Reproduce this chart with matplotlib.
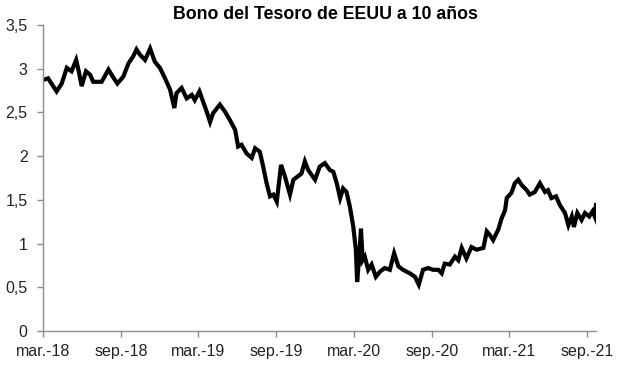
import pandas as pd
import matplotlib
matplotlib.use('Agg')
import matplotlib.pyplot as plt

plt.rcParams['font.family'] = ['Liberation Sans', 'DejaVu Sans']

# Rentabilidad del bono a 10 años
fechas = [
    '2018-03-01', '2018-03-13', '2018-03-21', '2018-04-02', '2018-04-14', '2018-04-26',
    '2018-05-07', '2018-05-18', '2018-05-25', '2018-05-31', '2018-06-10', '2018-06-20',
    '2018-06-27', '2018-07-17', '2018-08-02', '2018-08-12', '2018-08-23', '2018-09-06',
    '2018-09-18', '2018-09-29', '2018-10-07', '2018-10-15', '2018-10-27', '2018-11-08',
    '2018-11-19', '2018-12-01', '2018-12-13', '2018-12-25', '2019-01-04', '2019-01-09',
    '2019-01-21', '2019-02-02', '2019-02-14', '2019-02-21', '2019-03-04', '2019-03-13',
    '2019-03-21', '2019-03-29', '2019-04-05', '2019-04-21', '2019-05-03', '2019-05-15',
    '2019-05-27', '2019-06-03', '2019-06-11', '2019-06-23', '2019-07-05', '2019-07-13',
    '2019-07-24', '2019-08-01', '2019-08-09', '2019-08-17', '2019-08-25', '2019-09-02',
    '2019-09-12', '2019-09-21', '2019-10-03', '2019-10-11', '2019-10-22', '2019-10-30',
    '2019-11-07', '2019-11-15', '2019-12-01', '2019-12-12', '2019-12-24', '2020-01-05',
    '2020-01-13', '2020-01-21', '2020-01-29', '2020-02-05', '2020-02-13', '2020-02-21',
    '2020-02-29', '2020-03-06', '2020-03-09', '2020-03-14', '2020-03-18', '2020-03-22',
    '2020-03-27', '2020-04-04', '2020-04-12', '2020-04-22', '2020-05-02', '2020-05-13',
    '2020-05-25', '2020-06-04', '2020-06-14', '2020-06-25', '2020-07-11', '2020-07-23',
    '2020-08-01', '2020-08-11', '2020-08-23', '2020-09-04', '2020-09-16', '2020-09-24',
    '2020-10-01', '2020-10-13', '2020-10-25', '2020-11-02', '2020-11-10', '2020-11-21',
    '2020-12-03', '2020-12-15', '2020-12-31', '2021-01-08', '2021-01-15', '2021-01-23',
    '2021-02-04', '2021-02-12', '2021-02-20', '2021-02-24', '2021-03-07', '2021-03-15',
    '2021-03-23', '2021-03-31', '2021-04-12', '2021-04-19', '2021-05-01', '2021-05-13',
    '2021-05-25', '2021-06-01', '2021-06-09', '2021-06-20', '2021-06-29', '2021-07-11',
    '2021-07-19', '2021-07-27', '2021-08-01', '2021-08-09', '2021-08-19', '2021-08-27',
    '2021-09-06', '2021-09-14', '2021-09-19', '2021-09-22',
]
rentabilidad = [
    2.87, 2.89, 2.83, 2.74, 2.83, 3.01,
    2.97, 3.10, 2.95, 2.80, 2.97, 2.93,
    2.85, 2.85, 2.99, 2.91, 2.83, 2.91,
    3.06, 3.14, 3.22, 3.16, 3.10, 3.23,
    3.08, 3.01, 2.89, 2.76, 2.55, 2.72,
    2.78, 2.66, 2.70, 2.64, 2.74, 2.62,
    2.51, 2.39, 2.49, 2.59, 2.51, 2.41,
    2.30, 2.11, 2.13, 2.03, 1.98, 2.09,
    2.05, 1.88, 1.69, 1.54, 1.56, 1.48,
    1.90, 1.77, 1.56, 1.73, 1.77, 1.80,
    1.94, 1.84, 1.73, 1.88, 1.92, 1.84,
    1.82, 1.69, 1.52, 1.63, 1.59, 1.42,
    1.19, 0.93, 0.56, 0.85, 1.17, 0.81,
    0.85, 0.70, 0.76, 0.62, 0.68, 0.72,
    0.70, 0.89, 0.74, 0.70, 0.66, 0.62,
    0.53, 0.70, 0.72, 0.70, 0.70, 0.66,
    0.77, 0.76, 0.85, 0.81, 0.95, 0.83,
    0.96, 0.93, 0.95, 1.14, 1.10, 1.04,
    1.16, 1.29, 1.38, 1.52, 1.58, 1.69,
    1.73, 1.67, 1.61, 1.56, 1.59, 1.69,
    1.59, 1.61, 1.52, 1.54, 1.44, 1.35,
    1.21, 1.31, 1.19, 1.35, 1.27, 1.35,
    1.31, 1.37, 1.31, 1.44,
]

yticks = [0, 0.5, 1, 1.5, 2, 2.5, 3, 3.5]
ytick_labels = ['0', '0,5', '1', '1,5', '2', '2,5', '3', '3,5']
xticks = ['2018-03-01', '2018-09-01', '2019-03-01', '2019-09-01',
          '2020-03-01', '2020-09-01', '2021-03-01', '2021-09-01']
xtick_labels = ['mar.-18', 'sep.-18', 'mar.-19', 'sep.-19',
                'mar.-20', 'sep.-20', 'mar.-21', 'sep.-21']

df = pd.DataFrame({'fecha': pd.to_datetime(fechas), 'valor': rentabilidad})

fig = plt.figure(figsize=(6.17, 3.84), dpi=100)
ax = fig.add_axes([0.0697, 0.138, 0.8963, 0.797])

ax.plot(df['fecha'], df['valor'], color='black', lw=3.0, solid_joinstyle='miter')

ax.set_ylim(0, 3.5)
ax.set_yticks(yticks)
ax.set_yticklabels(ytick_labels)
ax.set_xlim(df['fecha'].iloc[0], df['fecha'].iloc[-1])
ax.set_xticks(pd.to_datetime(xticks))
ax.set_xticklabels(xtick_labels)

for s in ['top', 'right']:
    ax.spines[s].set_visible(False)
for s in ['left', 'bottom']:
    ax.spines[s].set_color('#8c8c8c')
    ax.spines[s].set_linewidth(1)

ax.tick_params(axis='both', colors='#8c8c8c', labelcolor='#222222',
               labelsize=11.5, length=4, width=1)
ax.tick_params(axis='y', pad=7)
ax.tick_params(axis='x', pad=5)

fig.text(0.528, 0.963, 'Bono del Tesoro de EEUU a 10 años', ha='center', va='center',
         fontsize=12.8, fontweight='bold')

fig.savefig('out.png', dpi=100)
